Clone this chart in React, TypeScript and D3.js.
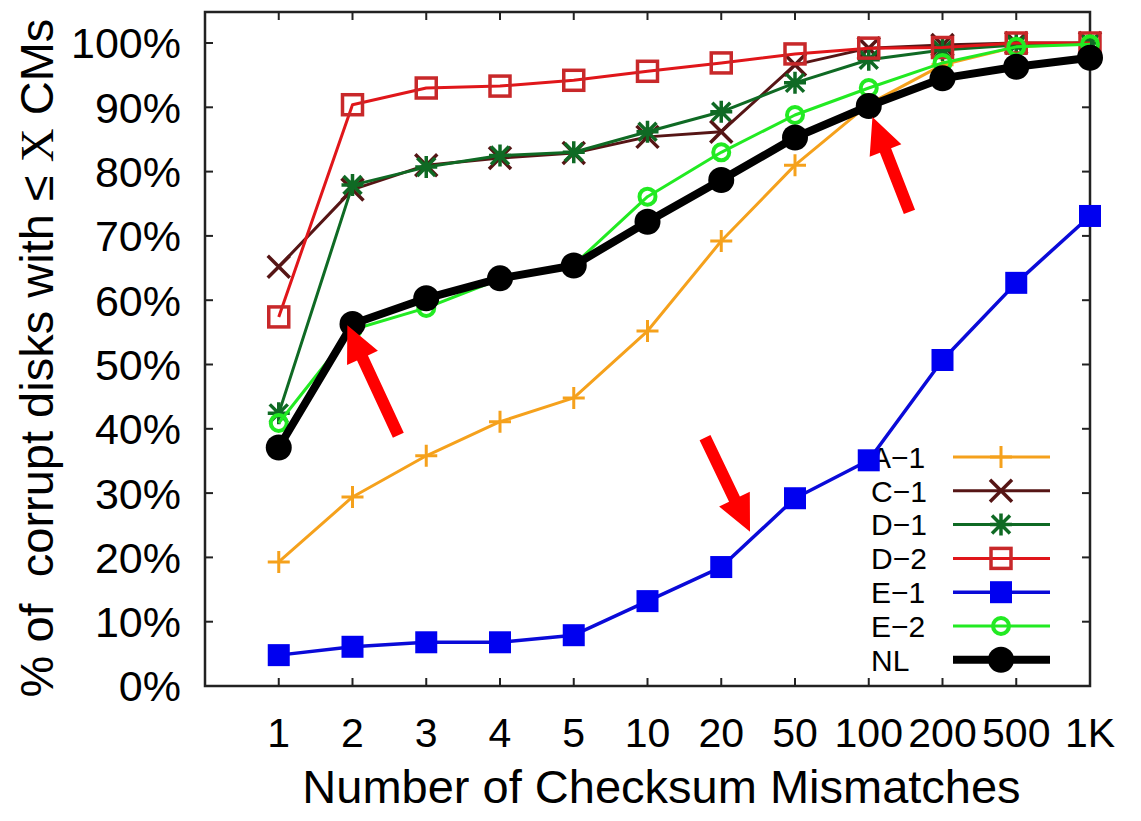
import React, { useRef, useEffect } from 'react';
import * as d3 from 'd3';

// x categories (number of checksum mismatches)
const categories = ['1', '2', '3', '4', '5', '10', '20', '50', '100', '200', '500', '1K'];
const yTicks = [0, 0.1, 0.2, 0.3, 0.4, 0.5, 0.6, 0.7, 0.8, 0.9, 1.0];

// cumulative fraction of corrupt disks
const seriesA1 = [0.193, 0.294, 0.358, 0.411, 0.448, 0.552, 0.692, 0.81, 0.905, 0.966, 0.994, 1.0];
const seriesC1 = [0.652, 0.772, 0.81, 0.821, 0.829, 0.854, 0.862, 0.966, 0.992, 0.997, 1.0, 1.0];
const seriesD1 = [0.424, 0.779, 0.807, 0.825, 0.83, 0.862, 0.893, 0.938, 0.974, 0.989, 0.997, 1.0];
const seriesD2 = [0.574, 0.904, 0.93, 0.933, 0.942, 0.956, 0.969, 0.983, 0.992, 0.993, 1.0, 1.0];
const seriesE1 = [0.048, 0.061, 0.068, 0.068, 0.079, 0.132, 0.185, 0.292, 0.351, 0.507, 0.627, 0.731];
const seriesE2 = [0.409, 0.554, 0.588, 0.633, 0.655, 0.761, 0.83, 0.888, 0.93, 0.969, 0.994, 0.998];
const seriesNL = [0.371, 0.563, 0.603, 0.634, 0.654, 0.722, 0.787, 0.853, 0.902, 0.945, 0.963, 0.977];

const seriesNames = ['A\u22121', 'C\u22121', 'D\u22121', 'D\u22122', 'E\u22121', 'E\u22122', 'NL'];
const seriesValues = [seriesA1, seriesC1, seriesD1, seriesD2, seriesE1, seriesE2, seriesNL];

// red annotation arrows: tip at (category index, value), tail offset in px
const arrowTipIdx = [0.93, 8.05, 6.39];
const arrowTipVal = [0.561, 0.885, 0.24];
const arrowTail = [[51, 110], [37, 95], [-45, -94]];

const styles = [
  { color: '#f5a11c', width: 3, marker: 'plus' },
  { color: '#561515', width: 3, marker: 'cross' },
  { color: '#0f6a24', width: 3, marker: 'star' },
  { color: '#e0161a', width: 3, marker: 'openSquare', mcolor: '#c8282a' },
  { color: '#0a0ad8', width: 3.5, marker: 'fillSquare', mcolor: '#0000f0' },
  { color: '#22ea22', width: 3, marker: 'openCircle' },
  { color: '#000000', width: 8, marker: 'fillCircle' },
];

const FONT = '"Liberation Sans", Arial, Helvetica, sans-serif';

const drawMarker = (g, type, color, cx, cy) => {
  const s = 11;
  if (type === 'plus') {
    g.append('path').attr('d', `M${cx - s},${cy}H${cx + s}M${cx},${cy - s}V${cy + s}`)
      .attr('stroke', color).attr('stroke-width', 3).attr('fill', 'none');
  } else if (type === 'cross') {
    g.append('path').attr('d', `M${cx - s},${cy - s}L${cx + s},${cy + s}M${cx - s},${cy + s}L${cx + s},${cy - s}`)
      .attr('stroke', color).attr('stroke-width', 3.5).attr('fill', 'none');
  } else if (type === 'star') {
    const d = 9;
    g.append('path').attr('d', `M${cx - s},${cy}H${cx + s}M${cx},${cy - s}V${cy + s}M${cx - d},${cy - d}L${cx + d},${cy + d}M${cx - d},${cy + d}L${cx + d},${cy - d}`)
      .attr('stroke', color).attr('stroke-width', 3.5).attr('fill', 'none');
  } else if (type === 'openSquare') {
    g.append('rect').attr('x', cx - 10).attr('y', cy - 10).attr('width', 20).attr('height', 20)
      .attr('stroke', color).attr('stroke-width', 3.5).attr('fill', 'none');
  } else if (type === 'fillSquare') {
    g.append('rect').attr('x', cx - 11).attr('y', cy - 11).attr('width', 22).attr('height', 22)
      .attr('fill', color);
  } else if (type === 'openCircle') {
    g.append('circle').attr('cx', cx).attr('cy', cy).attr('r', 8)
      .attr('stroke', color).attr('stroke-width', 4).attr('fill', 'none');
  } else if (type === 'fillCircle') {
    g.append('circle').attr('cx', cx).attr('cy', cy).attr('r', 13).attr('fill', color);
  }
};

const App = () => {
  const svgRef = useRef(null);

  useEffect(() => {
    const svg = d3.select(svgRef.current);
    svg.selectAll('*').remove();

    const left = 205, right = 1090, top = 12, bottom = 686;

    const x = d3.scaleLinear().domain([-1, categories.length - 1]).range([left, right]);
    const y = d3.scaleLinear().domain([0, 1]).range([bottom, 43]);

    // ticks (mirrored on all four sides, pointing inward)
    const ticks = svg.append('g').attr('stroke', '#222').attr('stroke-width', 2);
    yTicks.forEach(t => {
      ticks.append('line').attr('x1', left).attr('x2', left + 8).attr('y1', y(t)).attr('y2', y(t));
      ticks.append('line').attr('x1', right).attr('x2', right - 8).attr('y1', y(t)).attr('y2', y(t));
    });
    categories.forEach((c, i) => {
      ticks.append('line').attr('x1', x(i)).attr('x2', x(i)).attr('y1', bottom).attr('y2', bottom - 8);
      ticks.append('line').attr('x1', x(i)).attr('x2', x(i)).attr('y1', top).attr('y2', top + 8);
    });

    svg.append('rect')
      .attr('x', left).attr('y', top).attr('width', right - left).attr('height', bottom - top)
      .attr('fill', 'none').attr('stroke', '#222').attr('stroke-width', 2.5);

    // tick labels
    svg.append('g').selectAll('text').data(yTicks).join('text')
      .attr('x', 181).attr('y', d => y(d)).attr('dy', '0.36em')
      .attr('text-anchor', 'end').attr('font-family', FONT).attr('font-size', 43)
      .text(d => `${Math.round(d * 100)}%`);

    svg.append('g').selectAll('text').data(categories).join('text')
      .attr('x', (d, i) => x(i)).attr('y', 747)
      .attr('text-anchor', 'middle').attr('font-family', FONT).attr('font-size', 41)
      .text(d => d);

    // axis titles
    svg.append('text')
      .attr('x', (left + right) / 2 + 14).attr('y', 803)
      .attr('text-anchor', 'middle').attr('font-family', FONT).attr('font-size', 47)
      .text('Number of Checksum Mismatches');

    const yt = svg.append('text')
      .attr('transform', 'translate(53,358) rotate(-90)')
      .attr('text-anchor', 'middle').attr('font-family', FONT).attr('font-size', 47)
      .attr('xml:space', 'preserve');
    yt.append('tspan').text('% of  corrupt disks with \u2264 ');
    yt.append('tspan').attr('font-family', '"Liberation Serif", "DejaVu Serif", serif').text('X');
    yt.append('tspan').text(' CMs');

    // legend
    const legend = svg.append('g');
    seriesNames.forEach((name, i) => {
      const ly = 457 + i * 33.8;
      const st = styles[i];
      legend.append('text').attr('x', 871).attr('y', ly).attr('dy', '0.36em')
        .attr('font-family', FONT).attr('font-size', 30).text(name);
      legend.append('line').attr('x1', 953).attr('x2', 1050).attr('y1', ly).attr('y2', ly)
        .attr('stroke', st.color).attr('stroke-width', st.width);
      drawMarker(legend, st.marker, st.mcolor || st.color, 1001, ly);
    });

    // series
    const line = d3.line().x((d, i) => x(i)).y(d => y(d));
    seriesValues.forEach((vals, si) => {
      const st = styles[si];
      const g = svg.append('g');
      g.append('path').datum(vals).attr('d', line)
        .attr('fill', 'none').attr('stroke', st.color).attr('stroke-width', st.width)
        .attr('stroke-linejoin', 'round');
      vals.forEach((v, i) => drawMarker(g, st.marker, st.mcolor || st.color, x(i), y(v)));
    });

    // annotation arrows
    arrowTipIdx.forEach((ti, k) => {
      const tx = x(ti), ty = y(arrowTipVal[k]);
      const bx = tx + arrowTail[k][0], by = ty + arrowTail[k][1];
      const len = Math.hypot(bx - tx, by - ty);
      const ux = (bx - tx) / len, uy = (by - ty) / len;
      const px = -uy, py = ux;
      const headLen = 36, headW = 17, shaftW = 6;
      const hx = tx + ux * headLen, hy = ty + uy * headLen;
      const pts = [
        [tx, ty],
        [hx + px * headW, hy + py * headW],
        [hx + px * shaftW, hy + py * shaftW],
        [bx + px * shaftW, by + py * shaftW],
        [bx - px * shaftW, by - py * shaftW],
        [hx - px * shaftW, hy - py * shaftW],
        [hx - px * headW, hy - py * headW],
      ];
      svg.append('polygon').attr('points', pts.map(p => p.join(',')).join(' ')).attr('fill', '#ff0000');
    });
  }, []);

  return (
    <svg ref={svgRef} width={1141} height={821}
      style={{ position: 'absolute', left: 0, top: 0, background: '#fff' }} />
  );
};

export default App;
